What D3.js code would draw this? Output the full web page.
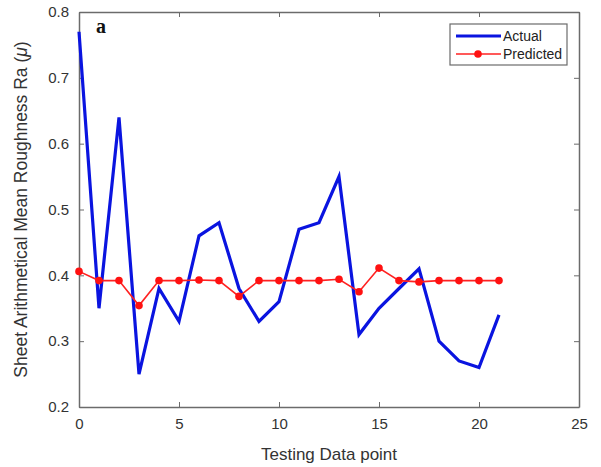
<!DOCTYPE html>
<html><head><meta charset="utf-8">
<script src="https://cdn.jsdelivr.net/npm/d3@7"></script>
<style>body{margin:0;background:#fff}svg{display:block}</style>
</head><body><svg id="c" width="601" height="467"></svg>
<script>
const points = d3.range(0, 22);
const actual = [0.77,0.35,0.64,0.25,0.38,0.33,0.46,0.48,0.38,0.33,0.36,0.47,0.48,0.55,0.31,0.35,0.38,0.41,0.30,0.27,0.26,0.34];
const predicted = [0.406,0.392,0.392,0.354,0.392,0.392,0.393,0.392,0.368,0.392,0.392,0.392,0.392,0.394,0.375,0.411,0.392,0.390,0.392,0.392,0.392,0.392];
const xTicks = [0,5,10,15,20,25];
const yTicks = [0.2,0.3,0.4,0.5,0.6,0.7,0.8];

const L=79,R=579,T=12,B=407;
const svg=d3.select("#c");
const x=d3.scaleLinear().domain([0,25]).range([L,R]);
const y=d3.scaleLinear().domain([0.2,0.8]).range([B,T]);
const axCol="#6b6b6b", txtCol="#333";
const font="'Liberation Sans', Arial, sans-serif";

function styleAxis(g){g.select(".domain").attr("stroke",axCol).attr("stroke-width",1.5);
 g.selectAll(".tick line").attr("stroke",axCol);
 g.selectAll(".tick text").attr("fill",txtCol).attr("font-family",font).attr("font-size",15);}
svg.append("g").attr("transform",`translate(0,${B})`)
 .call(d3.axisBottom(x).tickValues(xTicks).tickSizeInner(-5).tickSizeOuter(0).tickPadding(11).tickFormat(d3.format("d"))).call(styleAxis);
svg.append("g").attr("transform",`translate(0,${T})`)
 .call(d3.axisTop(x).tickValues(xTicks).tickSizeInner(-5).tickSizeOuter(0).tickFormat("")).call(styleAxis);
svg.append("g").attr("transform",`translate(${L},0)`)
 .call(d3.axisLeft(y).tickValues(yTicks).tickSizeInner(-5).tickSizeOuter(0).tickPadding(10).tickFormat(d3.format(".1f"))).call(styleAxis);
svg.append("g").attr("transform",`translate(${R},0)`)
 .call(d3.axisRight(y).tickValues(yTicks).tickSizeInner(-5).tickSizeOuter(0).tickFormat("")).call(styleAxis);

const line=d3.line().x((d,i)=>x(points[i])).y(d=>y(d));
svg.append("path").datum(actual).attr("d",line).attr("fill","none").attr("stroke","#0a14e0").attr("stroke-width",3.2).attr("stroke-linejoin","miter");
svg.append("path").datum(predicted).attr("d",line).attr("fill","none").attr("stroke","#f22").attr("stroke-width",1.6);
svg.append("g").selectAll("circle").data(predicted).join("circle")
 .attr("cx",(d,i)=>x(points[i])).attr("cy",d=>y(d)).attr("r",3.8).attr("fill","#f11");

svg.append("text").attr("x",96).attr("y",33).text("a").attr("font-family","'Liberation Serif', 'Times New Roman', serif").attr("font-weight","bold").attr("font-size",20).attr("fill","#111");

// legend
const lg=svg.append("g");
lg.append("rect").attr("x",450).attr("y",24).attr("width",117).attr("height",41).attr("fill","#fff").attr("stroke",axCol).attr("stroke-width",1.2);
lg.append("line").attr("x1",456).attr("x2",501).attr("y1",36).attr("y2",36).attr("stroke","#0a14e0").attr("stroke-width",3);
lg.append("line").attr("x1",456).attr("x2",501).attr("y1",54).attr("y2",54).attr("stroke","#f22").attr("stroke-width",1.3);
lg.append("circle").attr("cx",478).attr("cy",54).attr("r",3.8).attr("fill","#f11");
lg.append("text").attr("x",503).attr("y",41).text("Actual").attr("font-family",font).attr("font-size",14).attr("fill","#222");
lg.append("text").attr("x",503).attr("y",59).text("Predicted").attr("font-family",font).attr("font-size",14).attr("fill","#222");

svg.append("text").attr("x",(L+R)/2).attr("y",460).attr("text-anchor","middle").text("Testing Data point")
 .attr("font-family",font).attr("font-size",17).attr("fill",txtCol);
const yl=svg.append("text").attr("transform",`translate(27,${(T+B)/2}) rotate(-90)`).attr("text-anchor","middle")
 .attr("font-family",font).attr("font-size",17.5).attr("fill",txtCol);
yl.append("tspan").text("Sheet Arithmetical Mean Roughness Ra (");
yl.append("tspan").text("μ").attr("font-style","italic");
yl.append("tspan").text(")");
</script></body></html>
